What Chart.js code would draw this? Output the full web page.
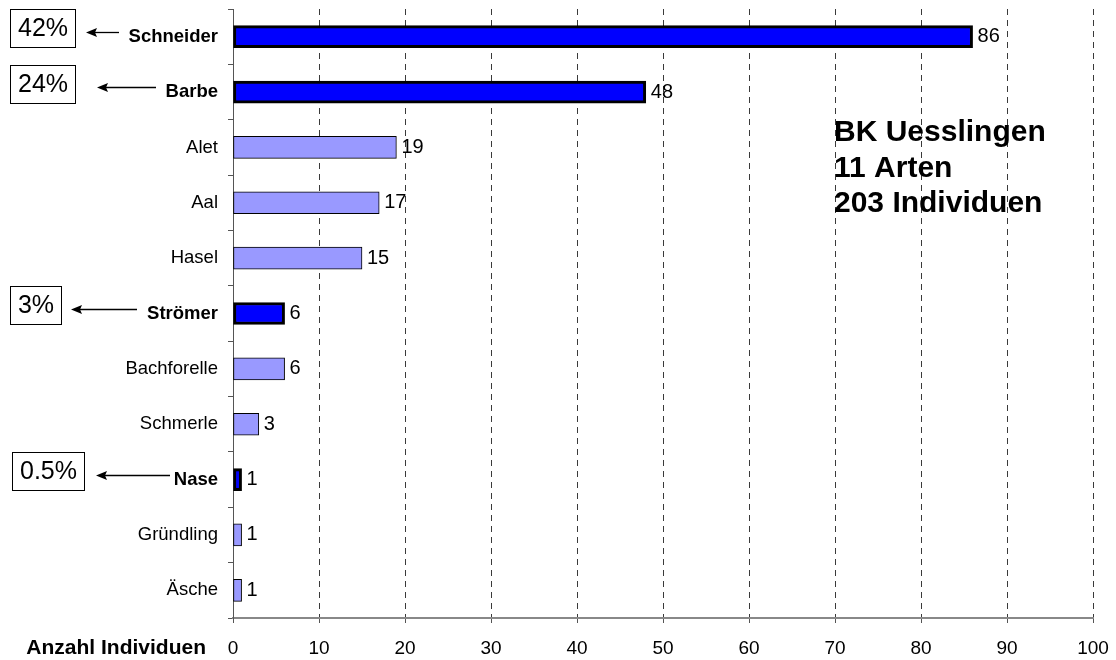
<!DOCTYPE html>
<html>
<head>
<meta charset="utf-8">
<title>BK Uesslingen – Fischarten</title>
<script src="https://cdn.jsdelivr.net/npm/chart.js@4.4.1/dist/chart.umd.min.js"></script>
<style>
  html, body { margin: 0; padding: 0; background: #ffffff; }
  #wrap { width: 1116px; height: 660px; position: relative; }
</style>
</head>
<body>
<div id="wrap"><canvas id="chart" width="1116" height="660"></canvas></div>
<script>
// Fischarten und Anzahl gefangener Individuen
const species = ['Schneider', 'Barbe', 'Alet', 'Aal', 'Hasel', 'Strömer', 'Bachforelle', 'Schmerle', 'Nase', 'Gründling', 'Äsche'];
const counts = [86, 48, 19, 17, 15, 6, 6, 3, 1, 1, 1];
// Hervorgehobene (gefährdete) Arten
const highlighted = [true, true, false, false, false, true, false, false, true, false, false];
// Anteil an der Gesamtzahl, nur für hervorgehobene Arten beschriftet
const shareLabels = ['42%', '24%', '', '', '', '3%', '', '', '0.5%', '', ''];
// Achse und Infoblock
const xMin = 0, xMax = 100, xStep = 10;
const axisTitle = 'Anzahl Individuen';
const infoLines = ['BK Uesslingen', '11 Arten', '203 Individuen'];

const FONT = '"Liberation Sans", Arial, Helvetica, sans-serif';
const DARK = '#0000ff';
const LIGHT = '#9999ff';

// Lage der Prozentkästchen und Pfeile je hervorgehobener Zeile
const calloutLayout = {
  0: { boxLeft: 10, arrowHead: 86,  arrowTail: 119 },
  1: { boxLeft: 10, arrowHead: 97,  arrowTail: 156 },
  5: { boxLeft: 10, arrowHead: 71,  arrowTail: 137 },
  8: { boxLeft: 12, arrowHead: 96,  arrowTail: 170 }
};

const annotations = {
  id: 'annotations',
  afterDatasetsDraw(chart) {
    const ctx = chart.ctx;
    const meta = chart.getDatasetMeta(0);
    const yScale = chart.scales.y;
    const xScale = chart.scales.x;

    ctx.save();
    // Wertbeschriftung rechts neben jedem Balken
    ctx.fillStyle = '#000';
    ctx.font = '20px ' + FONT;
    ctx.textAlign = 'left';
    ctx.textBaseline = 'middle';
    meta.data.forEach((bar, i) => {
      ctx.fillText(String(counts[i]), bar.x + 5, bar.y);
    });

    // Prozentkästchen mit Pfeil zur Artbezeichnung
    shareLabels.forEach((label, i) => {
      if (!label) return;
      const lay = calloutLayout[i];
      const yc = yScale.getPixelForValue(i);
      ctx.font = '25px ' + FONT;
      const w = Math.round(ctx.measureText(label).width + 15);
      const h = 38;
      const boxTop = Math.round(yc - 8.5 - h / 2) + 0.5;
      const boxLeft = lay.boxLeft + 0.5;
      ctx.fillStyle = '#fff';
      ctx.fillRect(boxLeft, boxTop, w, h);
      ctx.strokeStyle = '#000';
      ctx.lineWidth = 1;
      ctx.strokeRect(boxLeft, boxTop, w, h);
      ctx.fillStyle = '#000';
      ctx.textAlign = 'center';
      ctx.textBaseline = 'middle';
      ctx.fillText(label, boxLeft + w / 2, boxTop + h / 2 + 1);

      const ay = Math.round(yc - 5) + 0.5;
      ctx.beginPath();
      ctx.moveTo(lay.arrowTail, ay);
      ctx.lineTo(lay.arrowHead + 6, ay);
      ctx.lineWidth = 1.3;
      ctx.stroke();
      ctx.beginPath();
      ctx.moveTo(lay.arrowHead, ay);
      ctx.lineTo(lay.arrowHead + 11, ay - 4.5);
      ctx.lineTo(lay.arrowHead + 9, ay);
      ctx.lineTo(lay.arrowHead + 11, ay + 4.5);
      ctx.closePath();
      ctx.fill();
    });

    // Infoblock rechts oben
    ctx.font = 'bold 30px ' + FONT;
    ctx.textAlign = 'left';
    ctx.textBaseline = 'alphabetic';
    infoLines.forEach((line, k) => {
      ctx.fillText(line, 834, 141 + k * 35.5);
    });

    // Achsentitel links neben den x-Beschriftungen
    ctx.font = 'bold 21px ' + FONT;
    ctx.textAlign = 'right';
    ctx.textBaseline = 'middle';
    ctx.fillText(axisTitle, 206, xScale.bottom - 12);
    ctx.restore();
  }
};

new Chart(document.getElementById('chart'), {
  type: 'bar',
  data: {
    labels: species,
    datasets: [{
      data: counts,
      backgroundColor: highlighted.map(h => h ? DARK : LIGHT),
      borderColor: '#000',
      borderWidth: highlighted.map(h => h ? 3 : 1),
      borderSkipped: false,
      barThickness: 22
    }]
  },
  options: {
    indexAxis: 'y',
    responsive: false,
    devicePixelRatio: 1,
    animation: false,
    layout: { padding: { top: 9, right: 23, left: 0, bottom: 0 } },
    plugins: {
      legend: { display: false },
      tooltip: { enabled: false },
      title: { display: false }
    },
    scales: {
      x: {
        type: 'linear',
        position: 'bottom',
        min: xMin,
        max: xMax,
        ticks: {
          stepSize: xStep,
          color: '#000',
          font: { family: FONT, size: 19 },
          padding: 14
        },
        grid: {
          color: c => (c.index === 0 ? 'rgba(0,0,0,0)' : '#3a3a3a'),
          tickColor: '#555',
          lineWidth: 1,
          tickLength: 5,
          drawOnChartArea: true
        },
        border: { display: true, color: '#888', width: 2, dash: [6, 5] },
        afterFit(scale) { scale.height = 42; scale.paddingLeft = 0; scale.paddingRight = 0; }
      },
      y: {
        type: 'category',
        offset: true,
        ticks: {
          color: '#000',
          padding: 10,
          font: c => ({ family: FONT, size: 18.5, weight: highlighted[c.index] ? 'bold' : 'normal' })
        },
        grid: {
          offset: true,
          drawOnChartArea: false,
          drawTicks: true,
          tickLength: 5,
          color: '#555'
        },
        border: { display: true, color: '#555', width: 1 },
        afterFit(scale) { scale.width = 233; scale.paddingTop = 0; scale.paddingBottom = 0; }
      }
    }
  },
  plugins: [annotations]
});
</script>
</body>
</html>
